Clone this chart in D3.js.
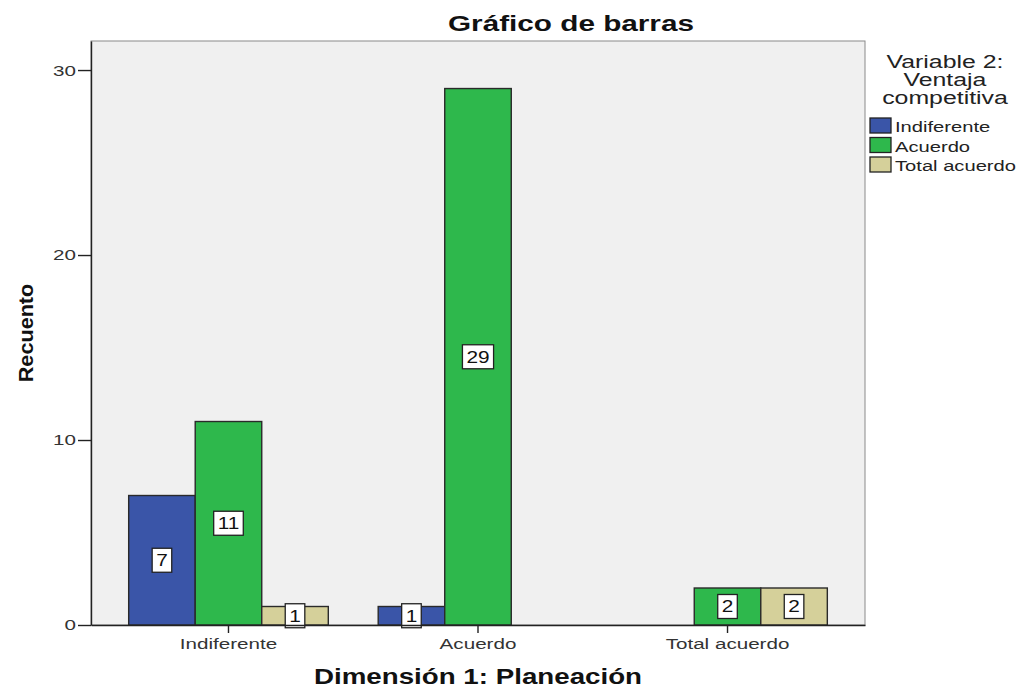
<!DOCTYPE html>
<html>
<head>
<meta charset="utf-8">
<script src="https://cdn.jsdelivr.net/npm/d3@7"></script>
<style>
  body { margin: 0; background: #fff; }
  text { font-family: "Liberation Sans", Arial, sans-serif; }
</style>
</head>
<body>
<svg id="chart" width="1021" height="688"></svg>
<script>
const categories = ["Indiferente", "Acuerdo", "Total acuerdo"];
const seriesNames = ["Indiferente", "Acuerdo", "Total acuerdo"];
const valuesIndiferente = [7, 1, 0];
const valuesAcuerdo = [11, 29, 2];
const valuesTotalAcuerdo = [1, 0, 2];
const yTicks = [0, 10, 20, 30];
const colors = ["#3a55a8", "#2eb84c", "#d5d09a"];

const seriesValues = [valuesIndiferente, valuesAcuerdo, valuesTotalAcuerdo];

// horizontally widen text glyphs (the reference font is rendered wide)
function stretch(sel, k) {
  sel.each(function() {
    const len = this.getComputedTextLength();
    d3.select(this).attr("textLength", len * k).attr("lengthAdjust", "spacingAndGlyphs");
  });
}

const svg = d3.select("#chart");
const m = { left: 91, top: 41, right: 865, bottom: 625 };

const x = d3.scaleBand().domain(categories).range([m.left, m.right]).paddingInner(0).paddingOuter(0.051);
const xs = d3.scaleBand().domain(seriesNames).range([0, x.bandwidth()]).paddingOuter(0.375).paddingInner(0);
const y = d3.scaleLinear().domain([0, 31.57]).range([m.bottom, m.top]);

// plot background
svg.append("rect")
  .attr("x", m.left).attr("y", m.top)
  .attr("width", m.right - m.left).attr("height", m.bottom - m.top)
  .attr("fill", "#f0f0f0").attr("stroke", "#8a8a8a").attr("stroke-width", 1);

// bars
const groups = svg.append("g").selectAll("g").data(categories).join("g")
  .attr("transform", d => `translate(${x(d)},0)`);

groups.each(function(c, ci) {
  const g = d3.select(this);
  const data = seriesNames.map((s, si) => ({ s, si, v: seriesValues[si][ci] })).filter(d => d.v > 0);
  g.selectAll("rect.bar").data(data).join("rect")
    .attr("class", "bar")
    .attr("x", d => xs(d.s))
    .attr("y", d => y(d.v))
    .attr("width", xs.bandwidth())
    .attr("height", d => y(0) - y(d.v))
    .attr("fill", d => colors[d.si])
    .attr("stroke", "#2a2a2a").attr("stroke-width", 1.4);

  const lab = g.selectAll("g.lab").data(data).join("g").attr("class", "lab")
    .attr("transform", d => `translate(${xs(d.s) + xs.bandwidth() / 2},${(y(d.v) + y(0)) / 2})`);
  lab.append("text")
    .attr("text-anchor", "middle").attr("dy", "0.37em")
    .attr("font-size", 16).attr("fill", "#111")
    .text(d => d.v)
    .call(stretch, 1.3)
    .each(function() {
      const w = +d3.select(this).attr("textLength");
      d3.select(this.parentNode).insert("rect", "text")
        .attr("x", -w / 2 - 4).attr("y", -12)
        .attr("width", w + 8).attr("height", 24)
        .attr("fill", "#fff").attr("stroke", "#222").attr("stroke-width", 1.3);
    });
});

// y axis
const yAxis = svg.append("g").attr("transform", `translate(${m.left},0)`)
  .call(d3.axisLeft(y).tickValues(yTicks).tickSize(13).tickSizeOuter(0).tickPadding(2));
yAxis.select(".domain").attr("stroke", "#222").attr("stroke-width", 1.4);
yAxis.selectAll(".tick line").attr("stroke", "#222").attr("stroke-width", 1.4);
yAxis.selectAll(".tick text").attr("font-size", 15.5).attr("fill", "#333")
  .attr("font-family", "Liberation Sans, Arial, sans-serif").call(stretch, 1.33);

// x axis
const xAxis = svg.append("g").attr("transform", `translate(0,${m.bottom})`)
  .call(d3.axisBottom(x).tickSize(8).tickPadding(5).tickSizeOuter(0));
xAxis.select(".domain").attr("stroke", "#222").attr("stroke-width", 1.4);
xAxis.selectAll(".tick line").attr("stroke", "#222").attr("stroke-width", 1.4);
xAxis.selectAll(".tick text").attr("font-size", 15.5).attr("fill", "#333")
  .attr("font-family", "Liberation Sans, Arial, sans-serif").call(stretch, 1.33);

// title
svg.append("text").attr("x", 571).attr("y", 31).attr("text-anchor", "middle")
  .attr("font-size", 22.5).attr("font-weight", "bold").attr("fill", "#111")
  .text("Gráfico de barras").call(stretch, 1.32);

// axis titles
svg.append("text").attr("x", (m.left + m.right) / 2).attr("y", 684).attr("text-anchor", "middle")
  .attr("font-size", 22).attr("font-weight", "bold").attr("fill", "#111")
  .text("Dimensión 1: Planeación").call(stretch, 1.26);

svg.append("text").attr("transform", `translate(33,${(m.top + m.bottom) / 2}) rotate(-90)`)
  .attr("text-anchor", "middle")
  .attr("font-size", 21).attr("font-weight", "bold").attr("fill", "#111")
  .text("Recuento").call(stretch, 1.03);

// legend
const legendTitle = ["Variable 2:", "Ventaja", "competitiva"];
svg.append("g").selectAll("text").data(legendTitle).join("text")
  .attr("x", 945).attr("y", (d, i) => 68 + i * 18)
  .attr("text-anchor", "middle").attr("font-size", 17.5).attr("fill", "#222")
  .text(d => d).call(stretch, 1.42);

const leg = svg.append("g").selectAll("g").data(seriesNames).join("g")
  .attr("transform", (d, i) => `translate(870,${118 + i * 19.5})`);
leg.append("rect").attr("width", 21).attr("height", 15)
  .attr("fill", (d, i) => colors[i]).attr("stroke", "#222").attr("stroke-width", 1.3);
leg.append("text").attr("x", 25).attr("y", 14).attr("font-size", 15.5).attr("fill", "#222")
  .text(d => d).call(stretch, 1.3);
</script>
</body>
</html>
